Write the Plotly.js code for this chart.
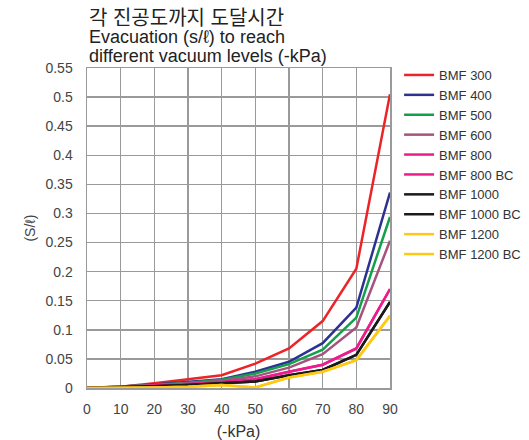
<!DOCTYPE html>
<html>
<head>
<meta charset="utf-8">
<script src="https://cdn.plot.ly/plotly-3.0.1.min.js"></script>
<style>html,body{margin:0;padding:0;background:#fff;}#chart{width:529px;height:440px;}</style>
</head>
<body>
<div id="chart"></div>
<script>
var pressure = [0, 10, 20, 30, 40, 50, 60, 70, 80, 90];
var seriesNames = ["BMF 300", "BMF 400", "BMF 500", "BMF 600", "BMF 800", "BMF 800 BC", "BMF 1000", "BMF 1000 BC", "BMF 1200", "BMF 1200 BC"];
var bmf300  = [0, 0.002, 0.008, 0.015, 0.022, 0.042, 0.068, 0.115, 0.205, 0.505];
var bmf400  = [0, 0.002, 0.006, 0.010, 0.015, 0.028, 0.045, 0.077, 0.138, 0.336];
var bmf500  = [0, 0.002, 0.005, 0.009, 0.014, 0.025, 0.041, 0.066, 0.121, 0.294];
var bmf600  = [0, 0.002, 0.005, 0.008, 0.012, 0.020, 0.035, 0.058, 0.104, 0.253];
var bmf800  = [0, 0.001, 0.004, 0.006, 0.010, 0.015, 0.028, 0.040, 0.068, 0.170];
var bmf800bc  = [0, 0.001, 0.004, 0.006, 0.010, 0.015, 0.028, 0.040, 0.068, 0.170];
var bmf1000 = [0, 0.001, 0.003, 0.005, 0.008, 0.011, 0.022, 0.031, 0.057, 0.148];
var bmf1000bc = [0, 0.001, 0.003, 0.005, 0.008, 0.011, 0.022, 0.031, 0.057, 0.148];
var bmf1200 = [0, 0, 0.001, 0.002, 0.005, 0.001, 0.018, 0.028, 0.048, 0.124];
var bmf1200bc = [0, 0, 0.001, 0.002, 0.005, 0.001, 0.018, 0.028, 0.048, 0.124];
var xTicks = [0, 10, 20, 30, 40, 50, 60, 70, 80, 90];
var yTicks = [0, 0.05, 0.1, 0.15, 0.2, 0.25, 0.3, 0.35, 0.4, 0.45, 0.5, 0.55];
var yTickText = ["0", "0.05", "0.1", "0.15", "0.2", "0.25", "0.3", "0.35", "0.4", "0.45", "0.5", "0.55"];

var allSeries = [bmf300, bmf400, bmf500, bmf600, bmf800, bmf800bc, bmf1000, bmf1000bc, bmf1200, bmf1200bc];
var colors = ["#ec2327", "#2e3192", "#12a04b", "#a5527f", "#ec1c8c", "#ec1c8c", "#1a1a1a", "#1a1a1a", "#ffc813", "#ffc813"];

var font = "Liberation Sans, Arial, Noto Sans CJK KR, sans-serif";
var titleFont = "Liberation Sans, Noto Sans CJK KR, sans-serif";
var traces = allSeries.map(function (ys, i) {
  return {
    x: pressure, y: ys, name: seriesNames[i], type: "scatter", mode: "lines",
    line: {color: colors[i], width: 2.5}
  };
});

var layout = {
  width: 529, height: 440,
  margin: {l: 87, r: 139, t: 68, b: 52, autoexpand: false},
  paper_bgcolor: "#fff", plot_bgcolor: "#fff",
  font: {family: font, color: "#444", size: 14},
  showlegend: true,
  legend: {x: 1.03, y: 1.025, xanchor: "left", yanchor: "top", font: {size: 13, color: "#333"},
           itemwidth: 30, tracegroupgap: 0, bgcolor: "rgba(0,0,0,0)"},
  xaxis: {range: [0, 90], tickvals: xTicks, showgrid: true, gridcolor: "#9a9a9a", gridwidth: 1.5,
          showline: true, linecolor: "#9a9a9a", linewidth: 1.5, mirror: true, zeroline: false,
          ticks: "", ticklabelstandoff: 8, tickfont: {size: 14, color: "#444"},
          title: {text: "(-kPa)", font: {size: 16, color: "#333"}, standoff: 9}},
  yaxis: {range: [0, 0.55], tickvals: yTicks, ticktext: yTickText, showgrid: true, gridcolor: "#9a9a9a", gridwidth: 1.5,
          showline: true, linecolor: "#9a9a9a", linewidth: 1.5, mirror: true, zeroline: false,
          ticks: "", ticklabelstandoff: 10, tickfont: {size: 14, color: "#444"},
          title: {text: "(S/ℓ)", font: {size: 14, color: "#444"}, standoff: 6}},
  annotations: [
    {text: "각 진공도까지 도달시간", xref: "paper", yref: "paper", x: 0, y: 1.157, xanchor: "left", yanchor: "middle",
     showarrow: false, font: {size: 20, color: "#222", family: titleFont}},
    {text: "Evacuation (s/ℓ) to reach", xref: "paper", yref: "paper", x: 0, y: 1.097, xanchor: "left", yanchor: "middle",
     showarrow: false, font: {size: 18, color: "#222", family: titleFont}},
    {text: "different vacuum levels (-kPa)", xref: "paper", yref: "paper", x: 0, y: 1.039, xanchor: "left", yanchor: "middle",
     showarrow: false, font: {size: 18, color: "#222", family: titleFont}}
  ]
};

Plotly.newPlot("chart", traces, layout, {displayModeBar: false, staticPlot: true});
</script>
</body>
</html>
